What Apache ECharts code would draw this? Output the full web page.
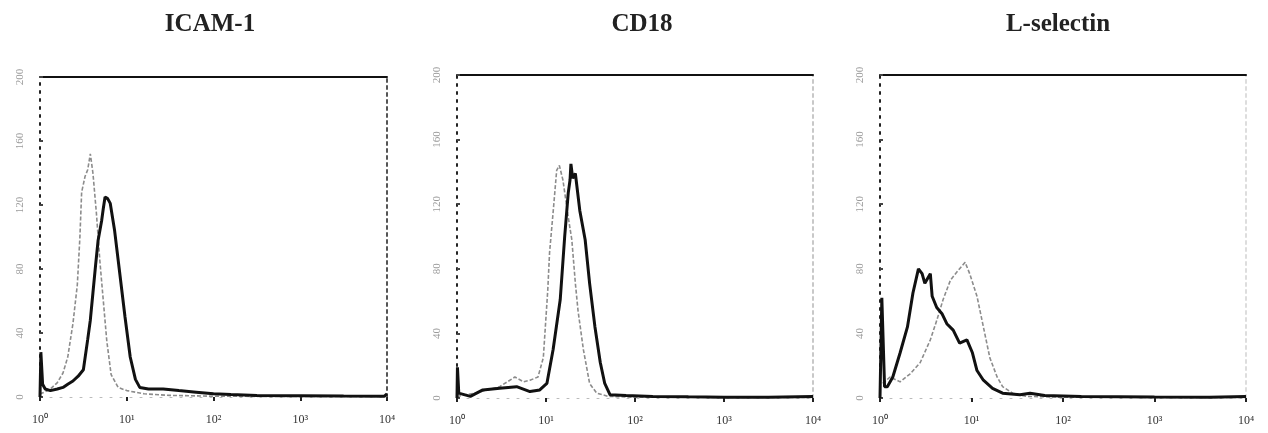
<!DOCTYPE html>
<html>
<head>
<meta charset="utf-8">
<script src="https://cdn.jsdelivr.net/npm/echarts@6/dist/echarts.min.js"></script>
<style>html,body{margin:0;padding:0;background:#fff;}#c{width:1268px;height:433px;}</style>
</head>
<body>
<div id="c"></div>
<script>
// ---- data (x = log10 fluorescence decade, y = cell count) ----
const panelTitles = ['ICAM-1', 'CD18', 'L-selectin'];
const xTickLabels = ['10\u2070', '10\u00B9', '10\u00B2', '10\u00B3', '10\u2074'];
const yTickValues = [0, 40, 80, 120, 160, 200];

const icamStained = [[0,0],[0.01,28],[0.03,8],[0.06,5],[0.12,4],[0.2,5],[0.265,6],[0.32,8],[0.38,10],[0.44,13],[0.5,17],[0.55,36],[0.58,48],[0.61,65],[0.64,82],[0.67,98],[0.71,110],[0.73,118],[0.75,125],[0.78,124],[0.81,121],[0.86,104],[0.92,77],[0.98,50],[1.04,25],[1.1,11],[1.15,6],[1.25,5],[1.42,5],[1.6,4],[1.8,3],[2.0,2],[2.2,1.5],[2.5,1],[3.0,0.8],[3.5,0.6],[3.97,0.5],[4.0,2]];
const icamControl = [[0,2],[0.05,3],[0.12,5],[0.2,9],[0.265,15],[0.32,25],[0.38,46],[0.43,70],[0.46,100],[0.48,128],[0.52,138],[0.55,142],[0.58,152],[0.61,140],[0.65,115],[0.69,85],[0.73,60],[0.77,35],[0.82,14],[0.9,6],[1.0,4],[1.2,2],[1.5,1],[2.0,0.5],[3.0,0.3],[4.0,0.3]];

const cd18Stained = [[0,0],[0.005,19],[0.02,3],[0.15,1],[0.29,5],[0.48,6],[0.67,7],[0.82,4],[0.93,5],[1.01,9],[1.08,30],[1.16,61],[1.21,100],[1.25,127],[1.27,135],[1.28,145],[1.3,136],[1.33,139],[1.38,116],[1.44,98],[1.49,71],[1.55,44],[1.61,22],[1.66,9],[1.72,2],[1.9,1.5],[2.2,1],[2.6,0.7],[3.0,0.5],[3.5,0.5],[4.0,1]];
const cd18Control = [[0,1],[0.2,3],[0.48,7],[0.65,13],[0.75,10],[0.82,11],[0.91,13],[0.97,25],[1.02,67],[1.04,90],[1.08,115],[1.12,141],[1.15,144],[1.19,135],[1.25,112],[1.29,98],[1.33,71],[1.36,54],[1.42,30],[1.49,9],[1.57,3],[1.7,1],[2.0,0.5],[4.0,0.3]];

const lselStained = [[0,0],[0.02,62],[0.05,7],[0.08,7],[0.14,13],[0.22,28],[0.3,44],[0.36,65],[0.42,80],[0.46,77],[0.49,71],[0.55,77],[0.57,63],[0.62,56],[0.68,52],[0.73,46],[0.8,42],[0.87,34],[0.95,36],[1.01,28],[1.06,17],[1.13,11],[1.23,6],[1.34,3],[1.53,2],[1.64,3],[1.8,1.5],[2.2,1],[3.0,0.6],[3.6,0.5],[4.0,1]];
const lselControl = [[0.03,9],[0.11,13],[0.22,10],[0.33,15],[0.44,22],[0.55,36],[0.62,48],[0.69,61],[0.77,73],[0.84,78],[0.93,84],[0.98,77],[1.06,63],[1.13,44],[1.2,25],[1.28,13],[1.34,7],[1.45,3],[1.6,1],[2.0,0.5],[4.0,0.3]];

const stainedSets = [icamStained, cd18Stained, lselStained];
const controlSets = [icamControl, cd18Control, lselControl];

// ---- layout ----
const grids = [
  {left: 40, top: 77, width: 347, height: 320},
  {left: 457, top: 75, width: 356, height: 323},
  {left: 880, top: 75, width: 366, height: 323}
];
const titleCenters = [205, 637, 1053];
const rightEdgeColors = ['#555', '#c8c8c8', '#dddddd'];

const chart = echarts.init(document.getElementById('c'), null, {renderer: 'canvas'});
const xAxes = [], yAxes = [], series = [], titles = [];
grids.forEach((g, i) => {
  titles.push({
    text: panelTitles[i], left: titleCenters[i], top: 7, textAlign: 'center',
    textStyle: {fontFamily: 'Liberation Serif', fontWeight: 'bold', fontSize: 25, color: '#222'}
  });
  xAxes.push({
    type: 'value', gridIndex: i, min: 0, max: 4, interval: 1, position: 'bottom',
    axisLine: {show: true, lineStyle: {color: '#bbb', width: 1, type: [2, 8]}},
    axisTick: {show: true, length: 4, lineStyle: {color: '#222', width: 2}},
    axisLabel: {formatter: v => xTickLabels[v], color: '#333', fontFamily: 'Liberation Serif', fontSize: 12, margin: 17},
    splitLine: {show: false}
  });
  xAxes.push({
    type: 'value', gridIndex: i, min: 0, max: 4, position: 'top',
    axisLine: {show: true, onZero: false, lineStyle: {color: '#111', width: 2}},
    axisTick: {show: false}, axisLabel: {show: false}, splitLine: {show: false}
  });
  yAxes.push({
    type: 'value', gridIndex: i, min: 0, max: 200, interval: 40, position: 'left',
    axisLine: {show: true, onZero: false, lineStyle: {color: '#222', width: 2, type: [2, 6]}},
    axisTick: {show: true, inside: true, length: 3, lineStyle: {color: '#444', width: 2}},
    axisLabel: {rotate: 90, color: '#9a9a9a', fontFamily: 'Liberation Serif', fontSize: 11, margin: 14,
      formatter: v => yTickValues.includes(v) ? String(v) : ''},
    splitLine: {show: false}
  });
  yAxes.push({
    type: 'value', gridIndex: i, min: 0, max: 200, position: 'right',
    axisLine: {show: true, onZero: false, lineStyle: {color: rightEdgeColors[i], width: 2, type: [3, 4]}},
    axisTick: {show: false}, axisLabel: {show: false}, splitLine: {show: false}
  });
  series.push({
    type: 'line', xAxisIndex: i * 2, yAxisIndex: i * 2, data: controlSets[i],
    showSymbol: false, smooth: false, z: 2,
    lineStyle: {color: '#8c8c8c', width: 1.6, type: [4, 2]}
  });
  series.push({
    type: 'line', xAxisIndex: i * 2, yAxisIndex: i * 2, data: stainedSets[i],
    showSymbol: false, smooth: false, z: 3,
    lineStyle: {color: '#111', width: 3}
  });
});

chart.setOption({
  animation: false,
  backgroundColor: '#fff',
  title: titles,
  grid: grids,
  xAxis: xAxes,
  yAxis: yAxes,
  series: series
});
</script>
</body>
</html>
